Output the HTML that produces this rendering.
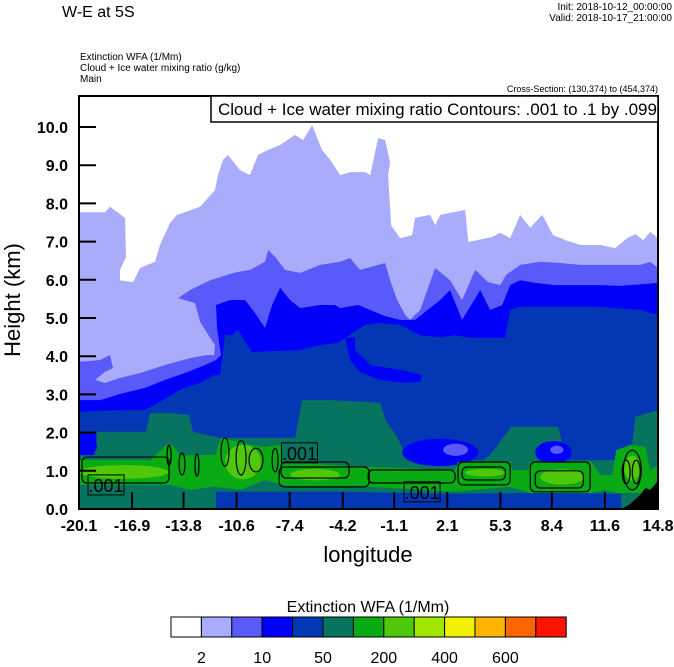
<!DOCTYPE html>
<html><head><meta charset="utf-8"><style>
html,body{margin:0;padding:0;background:#fff;}
svg{display:block;font-family:"Liberation Sans",sans-serif;}
</style></head><body>
<svg id="chart" width="674" height="667" viewBox="0 0 674 667" xmlns="http://www.w3.org/2000/svg">
<text x="62" y="17" font-size="16">W-E at 5S</text>
<text x="672" y="10" font-size="10" text-anchor="end">Init: 2018-10-12_00:00:00</text>
<text x="672" y="21" font-size="10" text-anchor="end">Valid: 2018-10-17_21:00:00</text>
<text x="80" y="60" font-size="10">Extinction WFA   (1/Mm)</text>
<text x="80" y="71" font-size="10">Cloud + Ice water mixing ratio    (g/kg)</text>
<text x="80" y="82" font-size="10">Main</text>
<text x="658" y="92" font-size="9" text-anchor="end">Cross-Section: (130,374) to (454,374)</text>
<defs><clipPath id="pc"><rect x="79" y="96" width="579" height="413"/></clipPath></defs>
<g id="plot" clip-path="url(#pc)"></g>
<rect x="79" y="96" width="579" height="413" fill="none" stroke="#000" stroke-width="2"/>
<g id="axes"></g>
<rect x="211" y="96" width="447" height="26" fill="#fff" stroke="#000" stroke-width="1.5"/>
<text x="218" y="115" font-size="17">Cloud + Ice water mixing ratio Contours: .001 to .1 by .099</text>
<text transform="translate(20,300) rotate(-90)" font-size="22" text-anchor="middle">Height (km)</text>
<text x="368" y="562" font-size="22" text-anchor="middle">longitude</text>
<text x="368" y="612" font-size="16" text-anchor="middle">Extinction WFA  (1/Mm)</text>
<g id="cbar"></g>
</svg>
<script>
const xTicks=[-20.1,-16.9,-13.8,-10.6,-7.4,-4.2,-1.1,2.1,5.3,8.4,11.6,14.8];
const yTicks=[0,1,2,3,4,5,6,7,8,9,10];
const cbColors=["#ffffff","#a8acfa","#5a5afa","#0000fa","#0437b4","#077460","#0aaa14","#50c80a","#a0e600","#f0f000","#ffb400","#ff6400","#ff1400"];
const cbLabels=["2","10","50","200","400","600"];
const cbLabelIdx=[1,3,5,7,9,11];
// level boundaries [lon,km]
const lavenderTop=[[-20.1,7.77],[-18.53,7.77],[-18.23,7.91],[-17.33,7.62],[-17.27,6.6],[-17.63,6.26],[-17.63,5.99],[-16.84,5.94],[-16.42,6.31],[-15.52,6.47],[-15.22,6.91],[-14.61,7.49],[-14.19,7.7],[-13.71,7.77],[-12.8,7.91],[-11.9,8.35],[-11.72,8.74],[-11.42,9.14],[-11.12,9.27],[-10.39,8.87],[-9.79,8.74],[-9.31,9.27],[-8.7,9.4],[-7.98,9.53],[-7.08,9.79],[-6.59,9.66],[-6.05,10.05],[-5.45,9.4],[-4.96,9.14],[-4.36,8.74],[-3.76,8.82],[-2.85,8.82],[-2.55,8.74],[-2.07,9.71],[-1.65,9.66],[-1.35,9.08],[-1.47,8.74],[-1.29,7.43],[-0.74,7.09],[-0.02,7.17],[0.16,7.62],[1.07,7.7],[1.37,7.43],[1.67,7.7],[3.18,7.83],[3.36,6.99],[4.8,7.12],[5.29,7.23],[5.89,7.09],[6.49,7.7],[7.1,7.36],[7.82,7.7],[8.48,7.17],[9.21,7.04],[10.11,6.91],[11.32,6.91],[12.22,6.83],[12.94,7.09],[13.43,7.2],[13.91,7.04],[14.33,7.25],[14.8,7.09]];
const mediumTop=[[-20.1,3.85],[-18.83,3.9],[-18.23,4.03],[-18.05,3.69],[-18.53,3.59],[-19.13,3.38],[-18.53,3.3],[-17.63,3.43],[-16.42,3.56],[-14.91,3.77],[-13.41,3.95],[-12.44,4.03],[-11.96,4.03],[-11.9,4.29],[-12.2,4.48],[-12.8,4.9],[-13.11,5.39],[-14.13,5.52],[-13.41,5.73],[-12.2,5.99],[-10.63,6.2],[-9.79,6.26],[-8.88,6.47],[-8.7,6.78],[-8.22,6.57],[-7.68,6.26],[-6.77,6.18],[-5.57,6.39],[-4.36,6.47],[-3.76,6.57],[-3.16,6.26],[-1.65,6.44],[-1.35,5.99],[-0.92,5.47],[-0.44,5.08],[-0.14,4.95],[0.46,5.21],[1.37,6.31],[2.27,5.99],[2.99,5.47],[3.78,6.26],[4.56,5.94],[5.29,5.86],[5.65,6.13],[6.49,6.39],[7.7,6.47],[8.9,6.44],[10.11,6.39],[11.92,6.39],[13.73,6.39],[14.33,6.47],[14.8,6.31]];
const blueTop=[[-20.1,2.85],[-18.83,2.85],[-17.63,3.01],[-16.12,3.17],[-14.91,3.38],[-13.71,3.56],[-12.5,3.77],[-12.08,3.85],[-11.84,3.9],[-11.54,4.03],[-11.78,4.74],[-11.84,5.34],[-11.0,5.47],[-10.09,5.47],[-9.49,5.13],[-8.88,4.74],[-8.46,5.34],[-7.98,5.79],[-7.38,5.47],[-6.77,5.26],[-5.57,5.34],[-4.66,5.34],[-4.36,5.26],[-3.28,5.34],[-2.55,5.21],[-1.65,5.05],[-0.74,4.95],[0.16,4.95],[1.67,5.47],[2.27,5.73],[2.99,4.95],[4.08,5.73],[4.68,5.21],[5.41,5.34],[5.89,5.86],[6.49,5.99],[7.4,5.92],[8.6,5.86],[9.81,5.86],[11.32,5.86],[12.52,5.84],[14.8,5.92]];
const darkBlueTop=[[-20.1,2.54],[-18.83,2.57],[-17.02,2.59],[-16.12,2.59],[-15.22,2.8],[-14.01,3.12],[-12.8,3.3],[-11.9,3.51],[-11.6,3.51],[-11.3,4.55],[-10.87,4.55],[-10.51,4.69],[-10.09,4.37],[-9.67,4.11],[-6.77,4.16],[-5.57,4.29],[-4.48,4.35],[-4.06,4.48],[-2.85,4.82],[-1.95,4.87],[-0.74,4.82],[0.46,4.55],[1.67,4.5],[2.57,4.55],[3.48,4.48],[5.59,4.48],[5.89,5.21],[6.49,5.29],[8.6,5.29],[11.32,5.29],[13.73,5.21],[14.8,5.08]];
const blueTongue=[[-4.06,4.48],[-3.76,3.9],[-3.16,3.59],[-1.95,3.38],[-0.44,3.3],[0.46,3.33],[0.58,3.5],[-0.44,3.62],[-2.55,3.77],[-3.46,4.16],[-3.46,4.5]];
const tealTop=[[-20.1,1.41],[-19.13,1.41],[-19.01,2.02],[-16.06,2.02],[-15.82,2.51],[-14.49,2.51],[-13.47,2.46],[-13.23,2.02],[-11.66,1.86],[-7.08,1.86],[-6.65,2.85],[-4.96,2.85],[-1.95,2.78],[-1.59,2.3],[-0.99,1.94],[-0.26,1.28],[4.26,1.28],[4.68,1.41],[5.95,2.15],[8.78,2.15],[9.27,1.28],[13.13,1.28],[13.43,2.41],[14.8,2.59]];
const leftBluePatch=[[-20.1,1.98],[-19.13,1.98],[-19.0,1.6],[-19.3,1.41],[-20.1,1.41]];
const bottomDarkBlue=[[-11.84,0],[-11.84,0.45],[-4.0,0.45],[2.0,0.4],[8.0,0.42],[12.58,0.4],[12.58,0]];
// blobs [lonCenter, kmCenter, lonRadius, kmRadius]
const blueBlobs=[[1.67,1.48,2.3,0.36],[8.5,1.48,1.1,0.3]];
const mediumBlobs=[[2.6,1.55,0.75,0.16],[8.7,1.55,0.4,0.11]];
const greenTop=[[-20.1,1.28],[-15.82,1.28],[-14.79,1.68],[-14.49,1.68],[-14.01,1.41],[-11.9,1.41],[-11.54,1.86],[-9.79,1.68],[-8.88,1.62],[-7.98,1.68],[-7.86,1.23],[-2.61,1.1],[2.57,1.02],[2.75,1.23],[5.89,1.23],[6.01,1.02],[6.97,1.02],[7.1,1.23],[10.77,1.23],[11.32,0.89],[12.04,0.89],[12.28,1.54],[13.13,1.68],[14.04,1.62],[14.33,1.02],[14.8,1.15]];
const greenBottom=[[-20.1,0.63],[-14.61,0.63],[-13.41,0.5],[-11.9,0.58],[-10.39,0.5],[-8.88,0.76],[-7.38,0.58],[-2.61,0.58],[2.57,0.45],[5.89,0.58],[7.1,0.42],[10.77,0.42],[11.62,0.5],[12.28,0.42],[14.04,0.42],[14.8,0.5]];
const lightGreenBlobs=[[-17.4,0.97,2.7,0.18],[-10.21,1.23,1.08,0.45],[-5.87,0.9,1.5,0.15],[9.02,0.84,1.33,0.2],[13.25,1.07,0.48,0.33],[4.37,0.95,1.2,0.1]];
// contour boxes [lon1, lon2, km1, km2]
const contourBoxes=[[-19.92,-14.67,0.68,1.36],[-7.92,-3.82,0.81,1.23],[-8.04,-2.61,0.58,1.1],[-2.67,2.57,0.68,1.02],[2.75,5.89,0.63,1.23],[7.1,10.71,0.45,1.23],[2.99,5.6,0.76,1.1],[7.4,10.3,0.55,1.0]];
const contourEllipses=[[-14.67,1.41,0.12,0.26],[-13.89,1.18,0.18,0.29],[-12.99,1.15,0.12,0.29],[-11.3,1.49,0.24,0.37],[-10.33,1.34,0.3,0.45],[-9.43,1.28,0.42,0.31],[-8.28,1.28,0.18,0.31],[12.88,0.97,0.24,0.31],[13.49,0.97,0.24,0.31],[13.25,1.02,0.54,0.52]];
const contourLabelPos=[[-18.47,0.63],[-6.81,1.47],[0.58,0.45]];
const contourLabelText=[".001",".001",".001"];
const terrain=[[12.58,0],[13.13,0.13],[13.73,0.37],[14.04,0.55],[14.33,0.5],[14.63,0.65],[14.8,0.75],[14.8,0]];

const NS="http://www.w3.org/2000/svg";
const X0=79,X1=658,Y0=509,PXKM=38.2,LMIN=-20.1,LMAX=14.8;
function xs(l){return X0+(l-LMIN)/(LMAX-LMIN)*(X1-X0);}
function ys(k){return Y0-k*PXKM;}
function mk(tag,attrs,parent){const e=document.createElementNS(NS,tag);for(const k in attrs)e.setAttribute(k,attrs[k]);parent.appendChild(e);return e;}
const plot=document.getElementById('plot');
function layer(top,color,name){
  let pts=top.map(p=>xs(p[0]).toFixed(1)+','+ys(p[1]).toFixed(1));
  pts.push(xs(LMAX)+','+ys(0));pts.push(xs(LMIN)+','+ys(0));
  const e=mk('polygon',{points:pts.join(' '),fill:color},plot);
  
  
}
function poly(arr,color,name){
  const e=mk('polygon',{points:arr.map(p=>xs(p[0]).toFixed(1)+','+ys(p[1]).toFixed(1)).join(' '),fill:color},plot);
  
  
}
function band(top,bot,color,name){
  const pts=top.map(p=>xs(p[0]).toFixed(1)+','+ys(p[1]).toFixed(1)).concat(bot.slice().reverse().map(p=>xs(p[0]).toFixed(1)+','+ys(p[1]).toFixed(1)));
  const e=mk('polygon',{points:pts.join(' '),fill:color},plot);
  
  
}
function blobs(arr,color,name,stroke){
  arr.forEach(b=>{
    const cx=xs(b[0]),cy=ys(b[1]),rx=xs(b[0]+b[2])-cx,ry=b[3]*PXKM;
    const e=mk('ellipse',{cx:cx,cy:cy,rx:rx,ry:ry,fill:stroke?'none':color,stroke:stroke?color:'none','stroke-width':1.2},plot);
    
    
  });
}
layer(lavenderTop,cbColors[1],'extinction-level-2');
layer(mediumTop,cbColors[2],'extinction-level-10');
layer(blueTop,cbColors[3],'extinction-level-25');
layer(darkBlueTop,cbColors[4],'extinction-level-50');
poly(blueTongue,cbColors[3],'blue-tongue');
layer(tealTop,cbColors[5],'extinction-level-100');
poly(leftBluePatch,cbColors[3],'left-blue-patch');
poly(bottomDarkBlue,cbColors[4],'bottom-dark-blue-band');
blobs(blueBlobs,cbColors[3],'blue-blob');
blobs(mediumBlobs,cbColors[2],'medium-blob');
band(greenTop,greenBottom,cbColors[6],'extinction-level-200');
blobs(lightGreenBlobs,cbColors[7],'extinction-level-300');
contourBoxes.forEach(b=>{
  const x1=xs(b[0]),x2=xs(b[1]),y1=ys(b[3]),y2=ys(b[2]);
  const e=mk('rect',{x:x1,y:y1,width:x2-x1,height:y2-y1,rx:5,fill:'none',stroke:'#000','stroke-width':1.2},plot);
  
  
});
blobs(contourEllipses,'#000','cloud-contour-cell',true);
poly(terrain,'#000','terrain');
contourLabelPos.forEach((p,i)=>{
  const cx=xs(p[0]),cy=ys(p[1]);
  const r=mk('rect',{x:cx-18,y:cy-10,width:36,height:20,fill:'none',stroke:'#000','stroke-width':1},plot);
  
  
  const t=mk('text',{x:cx,y:cy+7,'font-size':18,'text-anchor':'middle'},plot);
  t.textContent=contourLabelText[i];
  
  
});
const axes=document.getElementById('axes');
yTicks.forEach(v=>{
  const y=ys(v);
  const l=mk('line',{x1:X0,x2:X0+17,y1:y,y2:y,stroke:'#000','stroke-width':2},axes);
  
  
  const t=mk('text',{x:68,y:y+6,'font-size':16,'font-weight':'bold','text-anchor':'end'},axes);
  t.textContent=v.toFixed(1);
  
  
});
xTicks.forEach(v=>{
  const x=xs(v);
  const l=mk('line',{x1:x,x2:x,y1:Y0,y2:Y0-17,stroke:'#000','stroke-width':2},axes);
  
  
  const t=mk('text',{x:x,y:531,'font-size':16,'font-weight':'bold','text-anchor':'middle'},axes);
  t.textContent=v.toFixed(1);
  
  
});
const cb=document.getElementById('cbar');
const CBX=171,CBW=30.4,CBY=617,CBH=20;
cbColors.forEach((c,i)=>{
  const r=mk('rect',{x:CBX+i*CBW,y:CBY,width:CBW,height:CBH,fill:c,stroke:'#000','stroke-width':1},cb);
  
  
});
cbLabels.forEach((s,i)=>{
  const t=mk('text',{x:CBX+cbLabelIdx[i]*CBW,y:667-4,'font-size':16,'text-anchor':'middle'},cb);
  t.textContent=s;
  
  
});
</script>
</body></html>
